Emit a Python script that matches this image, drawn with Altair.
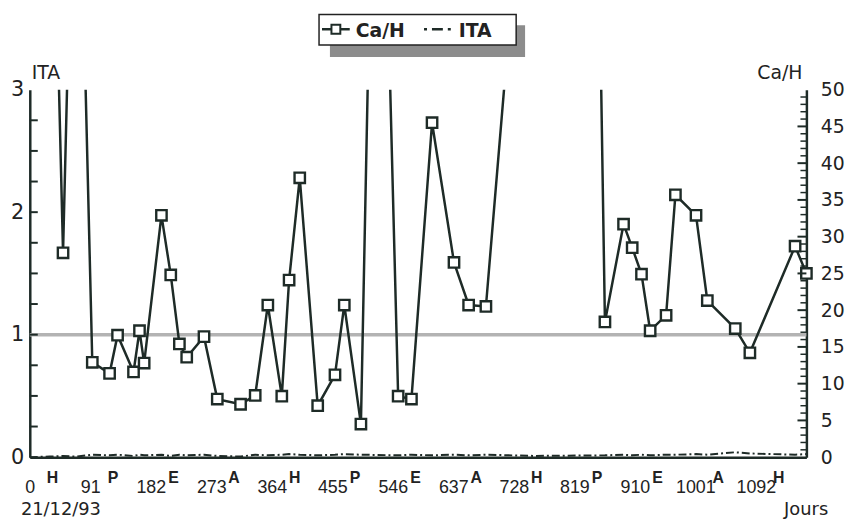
import altair as alt
import pandas as pd

# ---- data ----
cah_days = [32, 50, 70, 94, 120, 132, 156, 165, 172, 198, 212, 225, 236, 262, 282, 317,
            339, 358, 379, 390, 406, 433, 459, 473, 498, 523, 554, 574, 605, 638, 660, 686,
            836, 865, 893, 906, 920, 933, 957, 971, 1002, 1019, 1061, 1083, 1151, 1168]
cah_vals = [94, 27.8, 102, 12.9, 11.4, 16.6, 11.6, 17.2, 12.8, 32.9, 24.8, 15.4, 13.6, 16.4,
            7.9, 7.2, 8.4, 20.7, 8.3, 24.1, 38.0, 7.0, 11.2, 20.7, 4.5, 117, 8.3, 7.9, 45.5,
            26.5, 20.7, 20.5, 183, 18.4, 31.7, 28.5, 24.9, 17.2, 19.3, 35.7, 32.9, 21.3, 17.5,
            14.2, 28.7, 25.0]

ita_days = [0, 30, 50, 70, 94, 120, 132, 156, 165, 172, 198, 212, 225, 236, 262, 282, 317,
            339, 358, 379, 390, 406, 433, 459, 473, 498, 554, 574, 605, 638, 660, 686, 760,
            865, 893, 906, 920, 933, 957, 971, 1002, 1019, 1061, 1083, 1151, 1168]
ita_vals = [0.0, 0.005, 0.01, 0.005, 0.02, 0.015, 0.02, 0.01, 0.02, 0.015, 0.02, 0.01, 0.02,
            0.015, 0.02, 0.01, 0.005, 0.02, 0.015, 0.02, 0.025, 0.02, 0.015, 0.02, 0.025, 0.02,
            0.015, 0.02, 0.015, 0.02, 0.015, 0.02, 0.01, 0.015, 0.02, 0.015, 0.02, 0.015, 0.02,
            0.02, 0.025, 0.02, 0.04, 0.03, 0.02, 0.025]

ita_ref = [1]
x_ticks = [0, 91, 182, 273, 364, 455, 546, 637, 728, 819, 910, 1001, 1092]
seasons = ["H", "P", "E", "A", "H", "P", "E", "A", "H", "P", "E", "A", "H"]
left_ticks = [0.25, 0.5, 0.75, 1, 1.25, 1.5, 1.75, 2, 2.25, 2.5, 2.75]
right_major = [5, 10, 15, 20, 25, 30, 35, 40, 45]
right_minor = [v for v in range(1, 50) if v % 5 != 0]

INK = "#1e2b27"
W, H = 784, 371
XDOM = [0, 1168]
FONT = "DejaVu Sans"
NARROW = "Liberation Sans"

cah = pd.DataFrame({"day": cah_days, "cah": cah_vals})
ita = pd.DataFrame({"day": ita_days, "ita": ita_vals})
one = pd.DataFrame({"a": [0]})

xs = alt.Scale(domain=XDOM, nice=False, zero=False)
x_axis = alt.Axis(values=x_ticks, format="d", title=None, grid=False, ticks=False, tickSize=0,
                  domainColor=INK, domainWidth=2.5, labelFont=NARROW, labelFontSize=18,
                  labelColor="#222", labelPadding=36, labelBaseline="alphabetic",
                  labelOverlap=False, labelFlush=False)

ys_l = alt.Scale(domain=[0, 3], nice=False)
ys_r = alt.Scale(domain=[0, 50], nice=False)

left_axis = alt.Axis(orient="left", values=[0, 1, 2, 3], title=None, grid=False,
                     ticks=False, tickSize=0, domainColor=INK, domainWidth=2.5,
                     labelFont=FONT, labelFontSize=21, labelColor="#222", labelPadding=6)
right_axis = alt.Axis(orient="right", values=list(range(0, 51, 5)), title=None,
                      grid=False, ticks=False, tickSize=0, domainColor=INK,
                      domainWidth=2.5, labelFont=FONT, labelFontSize=19,
                      labelColor="#222", labelPadding=14)

# ---- left (ITA) group ----
ita_line = alt.Chart(ita).mark_line(color=INK, strokeWidth=2, strokeDash=[8, 3, 2, 3]).encode(
    x=alt.X("day:Q", scale=xs, axis=x_axis),
    y=alt.Y("ita:Q", scale=ys_l, axis=left_axis),
)
ref_line = alt.Chart(pd.DataFrame({"ita": ita_ref})).mark_rule(
    color="#b3b3b3", strokeWidth=3.5).encode(
    y=alt.Y("ita:Q", scale=ys_l, axis=left_axis),
)
# inward ticks of the ITA axis (every 0.25), from the axis line 12 days into the plot
l_ticks = alt.Chart(pd.DataFrame({"ita": left_ticks, "x0": 0, "x1": 12})).mark_rule(
    color=INK, strokeWidth=2).encode(
    y=alt.Y("ita:Q", scale=ys_l, axis=left_axis),
    x=alt.X("x0:Q", scale=xs, axis=x_axis), x2="x1:Q",
)
left_group = alt.layer(ref_line, ita_line, l_ticks)

# ---- right (Ca/H) group ----
cah_line = alt.Chart(cah).mark_line(color=INK, strokeWidth=2.5, clip=True).encode(
    x=alt.X("day:Q", scale=xs, axis=x_axis),
    y=alt.Y("cah:Q", scale=ys_r, axis=right_axis),
)
cah_pts = alt.Chart(cah).transform_filter("datum.cah <= 50").mark_point(
    shape="square", size=110, filled=True, fill="white", stroke=INK, strokeWidth=2.4,
    opacity=1).encode(
    x=alt.X("day:Q", scale=xs, axis=x_axis),
    y=alt.Y("cah:Q", scale=ys_r, axis=right_axis),
)
r_major = alt.Chart(pd.DataFrame({"cah": right_major})).mark_rule(color=INK, strokeWidth=2).encode(
    y=alt.Y("cah:Q", scale=ys_r, axis=right_axis), x=alt.value(W), x2=alt.value(W - 9))
r_minor = alt.Chart(pd.DataFrame({"cah": right_minor})).mark_rule(color=INK, strokeWidth=1.5).encode(
    y=alt.Y("cah:Q", scale=ys_r, axis=right_axis), x=alt.value(W), x2=alt.value(W - 6))
right_group = alt.layer(cah_line, cah_pts, r_major, r_minor)

# ---- season letters under the x axis ----
season_txt = alt.Chart(pd.DataFrame({"day": x_ticks, "s": seasons})).mark_text(
    font=NARROW, fontSize=16, fontWeight="bold", color="#222", align="center",
    baseline="alphabetic", dx=23).encode(
    x=alt.X("day:Q", scale=xs, axis=x_axis), y=alt.value(397), text="s:N")


def txt(s, x, y, size=19, align="left", weight="normal"):
    return alt.Chart(one).mark_text(font=FONT, fontSize=size, fontWeight=weight, color="#222",
                                    align=align, baseline="alphabetic").encode(
        x=alt.value(x), y=alt.value(y), text=alt.value(s))


def rect(x1, x2, y1, y2, fill, stroke=None):
    kw = dict(fill=fill)
    if stroke:
        kw.update(stroke=stroke, strokeWidth=1.5)
    return alt.Chart(one).mark_rect(**kw).encode(
        x=alt.value(x1), x2=alt.value(x2), y=alt.value(y1), y2=alt.value(y2))


def seg(x1, x2, y, dash=None):
    kw = dict(color=INK, strokeWidth=2.5)
    if dash:
        kw["strokeDash"] = dash
    return alt.Chart(one).mark_rule(**kw).encode(
        x=alt.value(x1), x2=alt.value(x2), y=alt.value(y))


legend_sq = alt.Chart(one).mark_point(shape="square", size=80, filled=True, fill="white",
                                      stroke=INK, strokeWidth=2, opacity=1).encode(
    x=alt.value(309), y=alt.value(-61))

decor = alt.layer(
    rect(303, 500, -65, -33, "#8c8c8c"),
    rect(292, 491, -76, -45, "white", stroke="#222"),
    seg(295, 323, -61),
    legend_sq,
    txt("Ca/H", 329, -53, size=19, weight="bold"),
    seg(398, 428, -61, dash=[3, 5, 11, 5]),
    txt("ITA", 433, -53, size=19, weight="bold"),
    txt("ITA", 2, -11, size=19),
    txt("Ca/H", 780, -11, size=19, align="right"),
    txt("21/12/93", -9, 429, size=18),
    txt("Jours", 806, 429, size=18, align="right"),
    season_txt,
)

chart = alt.layer(left_group, right_group, decor).resolve_scale(y="independent").properties(
    width=W, height=H,
    autosize=alt.AutoSizeParams(type="none"),
    padding={"left": 22, "top": 80, "right": 42, "bottom": 62},
).configure(background="white").configure_view(stroke=None)

chart.save("out.html", embed_options={"renderer": "svg", "actions": False})
